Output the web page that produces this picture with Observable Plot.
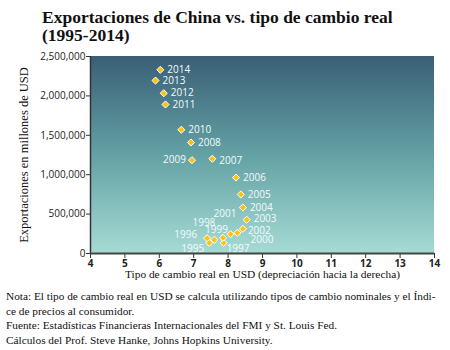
<!DOCTYPE html>
<html>
<head>
<meta charset="utf-8">
<script src="https://cdn.jsdelivr.net/npm/d3@7"></script>
<script src="https://cdn.jsdelivr.net/npm/@observablehq/plot@0.6"></script>
<style>
  html, body { margin: 0; padding: 0; background: #fff; }
  #wrap { position: relative; width: 450px; height: 350px; overflow: hidden; }
  #title { position: absolute; left: 42px; top: 8px; font-family: "Liberation Serif", serif; font-weight: bold; font-size: 17.5px; line-height: 18px; color: #111; white-space: nowrap; }
  #chart { position: absolute; left: 0; top: 50px; }
  #notes { position: absolute; left: 6px; top: 289px; font-family: "Liberation Serif", serif; font-size: 11.3px; line-height: 14.5px; color: #111; white-space: nowrap; }
</style>
</head>
<body>
<div id="wrap">
  <div id="title"></div>
  <div id="chart"></div>
  <div id="notes"></div>
</div>
<script>
const titleLines = ["Exportaciones de China vs. tipo de cambio real", "(1995-2014)"];
const years = [1995, 1996, 1997, 1998, 1999, 2000, 2001, 2002, 2003, 2004, 2005, 2006, 2007, 2008, 2009, 2010, 2011, 2012, 2013, 2014];
const realRate = [7.45, 7.39, 7.87, 7.60, 7.85, 8.07, 8.27, 8.43, 8.54, 8.43, 8.37, 8.23, 7.54, 6.92, 6.95, 6.64, 6.18, 6.13, 5.89, 6.03];
const exportsUSD = [135000, 194000, 135000, 174000, 199000, 245000, 262000, 313000, 428000, 584000, 749000, 964000, 1202000, 1409000, 1184000, 1570000, 1891000, 2034000, 2195000, 2331000];
const xTicks = [4, 5, 6, 7, 8, 9, 10, 11, 12, 13, 14];
const yTicks = [0, 500000, 1000000, 1500000, 2000000, 2500000];
const xLabel = "Tipo de cambio real en USD (depreciación hacia la derecha)";
const yLabel = "Exportaciones en millones de USD";
const noteLines = [
  "Nota: El tipo de cambio real en USD se calcula utilizando tipos de cambio nominales y el Índi-",
  "ce de precios al consumidor.",
  "Fuente: Estadísticas Financieras Internacionales del FMI y St. Louis Fed.",
  "Cálculos del Prof. Steve Hanke, Johns Hopkins University."
];

const data = years.map((year, i) => ({year, rate: realRate[i], exports: exportsUSD[i]}));

// label placement (style, not data)
const placement = {
  1995: {a: "end", dx: -5, dy: 6},
  1996: {a: "end", dx: -10, dy: -3},
  1997: {a: "start", dx: 3, dy: 6},
  1998: {a: "end", dx: 1, dy: -17},
  1999: {a: "end", dx: 5, dy: -8},
  2000: {a: "start", dx: 20, dy: 6},
  2001: {a: "end", dx: -1, dy: -19},
  2002: {a: "start", dx: 5, dy: 2},
  2003: {a: "start", dx: 7, dy: -1},
  2007: {a: "start", dx: 7, dy: 2},
  2009: {a: "end", dx: -6, dy: 0}
};

const sans = "'Open Sans', sans-serif";
const serif = "'Liberation Serif', serif";

const background = (index, scales, values, dims) => {
  const g = d3.create("svg:g");
  const grad = g.append("defs").append("linearGradient")
    .attr("id", "bgGrad").attr("x1", 0).attr("y1", 0).attr("x2", 0).attr("y2", 1);
  grad.append("stop").attr("offset", "0%").attr("stop-color", "#3a5f76");
  grad.append("stop").attr("offset", "50%").attr("stop-color", "#63a1a4");
  grad.append("stop").attr("offset", "100%").attr("stop-color", "#a6dbd4");
  g.append("rect")
    .attr("x", dims.marginLeft).attr("y", dims.marginTop)
    .attr("width", dims.width - dims.marginLeft - dims.marginRight)
    .attr("height", dims.height - dims.marginTop - dims.marginBottom)
    .attr("fill", "url(#bgGrad)");
  return g.node();
};

const labelMarks = data.map(d => {
  const p = placement[d.year] || {a: "start", dx: 7, dy: 0};
  return Plot.text([d], {
    x: "rate", y: "exports", text: d => String(d.year),
    textAnchor: p.a, dx: p.dx, dy: p.dy,
    fill: "#f4fbfb", fontFamily: sans, fontSize: 10
  });
});

const chart = Plot.plot({
  width: 450,
  height: 232,
  marginTop: 6,
  marginBottom: 29,
  marginLeft: 90,
  marginRight: 16,
  style: {fontFamily: sans, fontSize: "10px", color: "#222", background: "transparent", overflow: "visible"},
  x: {domain: [4, 14]},
  y: {domain: [0, 2500000]},
  marks: [
    background,
    Plot.axisX({ticks: xTicks, tickFormat: d => String(d), tickSize: 5, tickPadding: 1, label: null, fontSize: 10, fontWeight: "bold", stroke: "#333", fill: "#222"}),
    Plot.axisY({ticks: yTicks, tickFormat: d3.format(","), tickSize: 4, tickPadding: 1, label: null, fontSize: 10, stroke: "#333", fill: "#222"}),
    Plot.ruleX([4], {stroke: "#333", strokeWidth: 1.5}),
    Plot.ruleY([0], {stroke: "#444", strokeWidth: 2}),
    Plot.dot(data, {x: "rate", y: "exports", symbol: "diamond2", r: 3.2, fill: "#ffc20e", stroke: "white", strokeWidth: 1}),
    ...labelMarks,
    Plot.text([xLabel], {frameAnchor: "bottom", lineAnchor: "middle", textAnchor: "middle", dy: 21, fontFamily: serif, fontSize: 11.4, fill: "#111"}),
    Plot.text([yLabel], {frameAnchor: "left", lineAnchor: "middle", textAnchor: "middle", dx: -67, rotate: -90, fontFamily: serif, fontSize: 12.5, fill: "#111"})
  ]
});
document.getElementById("chart").appendChild(chart);
document.getElementById("title").innerHTML = titleLines.join("<br>");
document.getElementById("notes").innerHTML = noteLines.map(s => `<div>${s}</div>`).join("");
</script>
</body>
</html>
